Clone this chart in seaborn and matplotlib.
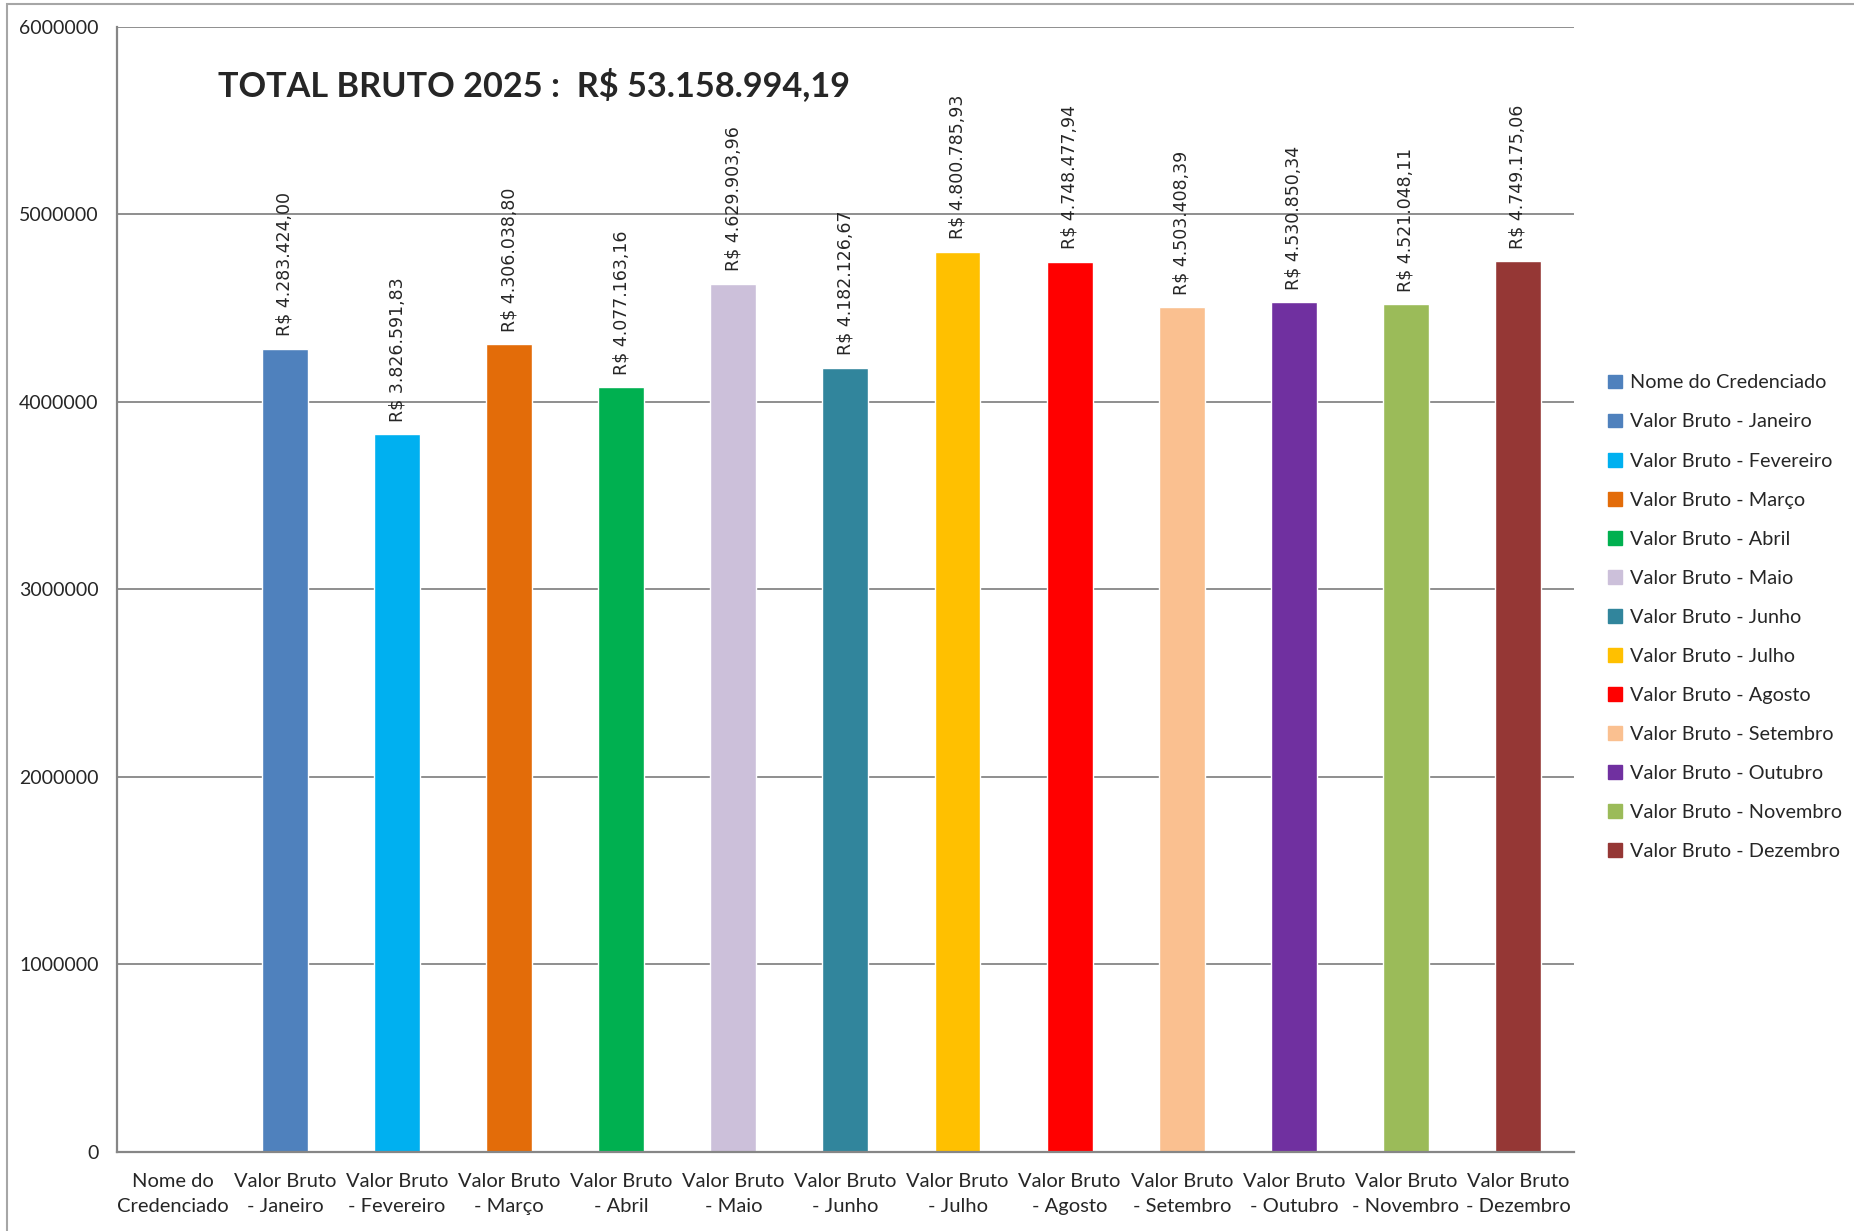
import matplotlib
matplotlib.use("Agg")
import matplotlib.pyplot as plt
import matplotlib.patches as mpatches
from matplotlib.ticker import FuncFormatter, FixedLocator
import seaborn as sns
import pandas as pd

categories = [
    "Nome do Credenciado",
    "Valor Bruto - Janeiro",
    "Valor Bruto - Fevereiro",
    "Valor Bruto - Março",
    "Valor Bruto - Abril",
    "Valor Bruto - Maio",
    "Valor Bruto - Junho",
    "Valor Bruto - Julho",
    "Valor Bruto - Agosto",
    "Valor Bruto - Setembro",
    "Valor Bruto - Outubro",
    "Valor Bruto - Novembro",
    "Valor Bruto - Dezembro",
]
tick_labels = [
    "Nome do\nCredenciado",
    "Valor Bruto\n- Janeiro",
    "Valor Bruto\n- Fevereiro",
    "Valor Bruto\n- Março",
    "Valor Bruto\n- Abril",
    "Valor Bruto\n- Maio",
    "Valor Bruto\n- Junho",
    "Valor Bruto\n- Julho",
    "Valor Bruto\n- Agosto",
    "Valor Bruto\n- Setembro",
    "Valor Bruto\n- Outubro",
    "Valor Bruto\n- Novembro",
    "Valor Bruto\n- Dezembro",
]
values = [
    0.0,
    4283424.00,
    3826591.83,
    4306038.80,
    4077163.16,
    4629903.96,
    4182126.67,
    4800785.93,
    4748477.94,
    4503408.39,
    4530850.34,
    4521048.11,
    4749175.06,
]
colors = [
    "#4F81BD", "#4F81BD", "#00B0F0", "#E36C09", "#00B050", "#CCC0DA",
    "#31859C", "#FFC000", "#FF0000", "#FAC090", "#7030A0", "#9BBB59", "#953735",
]
title_text = "TOTAL BRUTO 2025 :  R$ 53.158.994,19"

def brl(v):
    s = f"{v:,.2f}"
    s = s.replace(",", "X").replace(".", ",").replace("X", ".")
    return "R$ " + s

sns.set_theme(style="white")
plt.rcParams["font.family"] = ["Lato", "DejaVu Sans"]

df = pd.DataFrame({"cat": categories, "val": values})

fig = plt.figure(figsize=(18.54, 12.31), dpi=100)
ax = fig.add_axes([0.063, 0.0642, 0.786, 0.914])

sns.barplot(data=df, x="cat", y="val", hue="cat", palette=colors,
            legend=False, width=0.41, saturation=1, ax=ax)

grid_c = "#868686"
ax.set_ylim(0, 6000000)
ax.set_xlim(-0.5, len(categories) - 0.5)
ax.yaxis.set_major_locator(FixedLocator([0, 1e6, 2e6, 3e6, 4e6, 5e6, 6e6]))
ax.yaxis.set_major_formatter(FuncFormatter(lambda v, p: f"{int(v)}"))
ax.grid(axis="y", color=grid_c, linewidth=1.3)
ax.set_axisbelow(True)
for side in ["top", "right"]:
    ax.spines[side].set_visible(False)
for side in ["left", "bottom"]:
    ax.spines[side].set_color(grid_c)
    ax.spines[side].set_linewidth(1.6)

ax.set_xticks(range(len(categories)))
ax.set_xticklabels(tick_labels, fontsize=14.5, linespacing=1.6)
ax.set_xticks([i - 0.5 for i in range(len(categories) + 1)], minor=True)
ax.tick_params(axis="x", which="major", length=0, pad=15)
ax.tick_params(axis="x", which="minor", length=7, color=grid_c, width=1.3, direction="out")
ax.tick_params(axis="y", length=6, color=grid_c, width=1.3, direction="out", labelsize=14, pad=7)
ax.set_xlabel("")
ax.set_ylabel("")

for i, v in enumerate(values):
    if v > 0:
        ax.annotate(brl(v), (i, v), xytext=(0, 9), textcoords="offset points",
                    rotation=90, ha="center", va="bottom", fontsize=12.5,
                    family="DejaVu Sans")

fig.text(0.1176, 0.931, title_text, fontsize=24.7, fontweight="bold", va="center", ha="left")

handles = [mpatches.Patch(color=c, label=l) for c, l in zip(colors, categories)]
fig.legend(handles=handles, loc="center left", bbox_to_anchor=(0.8575, 0.4986),
           frameon=False, fontsize=14.3, handlelength=0.7, handleheight=0.7,
           handletextpad=0.4, labelspacing=1.11)

border = mpatches.Rectangle((7 / 1854, -0.01), 1.1, 1 - 4 / 1231 + 0.01,
                            transform=fig.transFigure, fill=False,
                            edgecolor="#A6A6A6", linewidth=1.5)
fig.patches.append(border)

fig.savefig("out.png", dpi=100)
